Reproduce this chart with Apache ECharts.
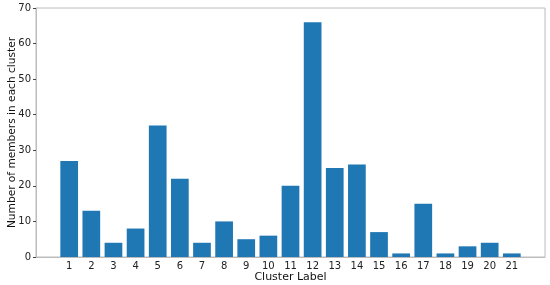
<!DOCTYPE html>
<html><head><meta charset="utf-8">
<script src="https://cdn.jsdelivr.net/npm/echarts@6/dist/echarts.min.js"></script>
<style>html,body{margin:0;padding:0;background:#fff}#c{width:550px;height:285px}</style>
</head><body><div id="c"></div>
<script>
const categories = ['', '1','2','3','4','5','6','7','8','9','10','11','12','13','14','15','16','17','18','19','20','21', ''];
const members = [null, 27,13,4,8,37,22,4,10,5,6,20,66,25,26,7,1,15,1,3,4,1, null];
const yTicks = {min: 0, max: 70, interval: 10};

const chart = echarts.init(document.getElementById('c'), null, {renderer: 'canvas'});
const font = 'DejaVu Sans';
chart.setOption({
  animation: false,
  grid: {left: 36, right: 5, top: 8, bottom: 28, show: true, borderColor: '#bcbcbc', borderWidth: 1,
         containLabel: false, outerBoundsMode: 'none'},
  xAxis: {
    type: 'category', data: categories,
    name: 'Cluster Label', nameLocation: 'middle', nameGap: 15, nameMoveOverlap: false,
    nameTextStyle: {fontFamily: font, fontSize: 11, color: '#111'},
    axisLine: {lineStyle: {color: '#bcbcbc'}},
    axisTick: {alignWithLabel: true, length: 3, lineStyle: {color: '#444'}, interval: (i) => categories[i] !== ''},
    axisLabel: {fontFamily: font, fontSize: 10, color: '#222', interval: 0, margin: 4}
  },
  yAxis: {
    type: 'value', min: yTicks.min, max: yTicks.max, interval: yTicks.interval,
    name: 'Number of members in each cluster', nameLocation: 'middle', nameGap: 18, nameMoveOverlap: false,
    nameTextStyle: {fontFamily: font, fontSize: 10.6, color: '#111'},
    axisLine: {show: true, lineStyle: {color: '#bcbcbc'}},
    axisTick: {show: true, length: 3, lineStyle: {color: '#444'}},
    splitLine: {show: false},
    axisLabel: {fontFamily: font, fontSize: 10, color: '#222', margin: 5}
  },
  series: [{
    type: 'bar', data: members, barCategoryGap: '20%',
    itemStyle: {color: '#1f77b4'}
  }]
});
</script></body></html>
